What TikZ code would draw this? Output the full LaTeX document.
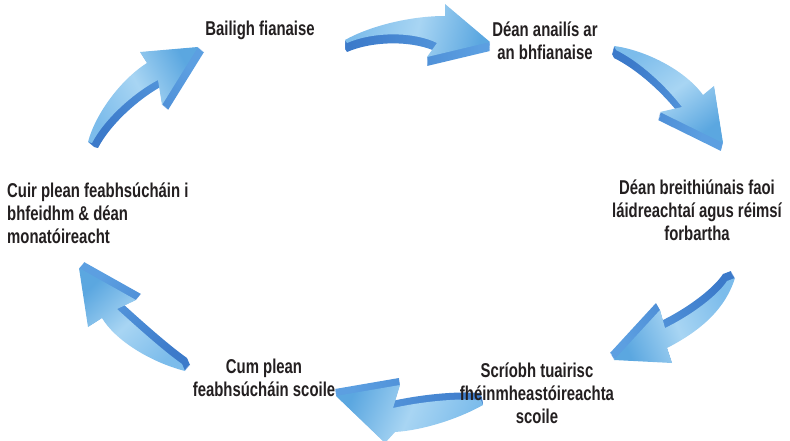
\documentclass[tikz,border=0pt]{standalone}
\usepackage{fontspec}
\setmainfont{Liberation Sans}[FakeStretch=0.745]
\definecolor{headc}{HTML}{5BA7E0}
\definecolor{midc}{HTML}{A8D5F3}
\definecolor{tailc}{HTML}{7CBCEB}
\definecolor{sidehead}{HTML}{5C9FE1}
\definecolor{sidetail}{HTML}{3C7ACA}
\definecolor{txt}{HTML}{231F20}
\tikzset{
  lab/.style={font=\bfseries\fontsize{20}{23}\selectfont, text=txt, align=center, inner sep=0pt},
}
% #1 path, #2/#3 extrusion shift, #4 shading angle
\newcommand\cyclearrow[4]{%
  \foreach \k in {10,...,1}{%
    \shade[top color=sidehead, bottom color=sidetail, shading angle=#4, shift={(#2*\k/10,#3*\k/10)}] #1;}
  \shade[top color=headc, bottom color=tailc, middle color=midc, shading angle=#4] #1;
}
\begin{document}
\begin{tikzpicture}[x=1pt,y=-1pt]
\useasboundingbox (0,0) rectangle (790,441);
% arrow 1 (top)
\cyclearrow{(345,40) .. controls (370,26) and (410,16) .. (445,16) -- (445,4) -- (490,42) -- (427,57) -- (437,43) .. controls (415,32) and (375,31) .. (347,43) -- cycle}{0}{9}{-104}
% arrow 2 (top right)
\cyclearrow{(614,46) .. controls (645,50) and (685,70) .. (703,95) -- (714,86) -- (723,143) -- (660,112) -- (682,107) .. controls (665,85) and (640,62) .. (616,50) -- cycle}{-2}{8}{-144}
% arrow 3 (bottom right)
\cyclearrow{(735,278) .. controls (728,300) and (712,325) .. (667,348) -- (672,363) -- (614,360) -- (660,310) -- (665,328) .. controls (692,315) and (718,295) .. (727,281) -- cycle}{-4}{-7}{113}
% arrow 4 (bottom)
\cyclearrow{(483,405) .. controls (460,418) and (425,430) .. (395,432) -- (385,443) -- (336,396) -- (400,385) -- (393,408) .. controls (420,402) and (455,398) .. (481,400) -- cycle}{-1}{-7}{67}
% arrow 5 (bottom left)
\cyclearrow{(185,371) .. controls (150,362) and (115,340) .. (102,318) -- (88,327) -- (79,268) -- (136,300) -- (117,309) .. controls (140,330) and (165,352) .. (182,364) -- cycle}{5}{-6}{43}
% arrow 6 (top left)
\cyclearrow{(88,142) .. controls (95,115) and (120,80) .. (147,63) -- (140,52) -- (198,47) -- (162,105) -- (158,80) .. controls (135,92) and (105,118) .. (92,143) -- cycle}{6}{5}{-62}
% labels
\node[lab] (n1) at (260,30) {Bailigh fianaise};
\node[lab] (n2) at (545,41) {Déan anailís ar\\an bhfianaise};
\node[lab] (n3) at (697,210) {Déan breithiúnais faoi\\láidreachtaí agus réimsí\\forbartha};
\node[lab] (n4) at (537,393) {Scríobh tuairisc\\fhéinmheastóireachta\\scoile};
\node[lab] (n5) at (264,378) {Cum plean\\feabhsúcháin scoile};
\node[lab, align=left, anchor=west] (n6) at (7,213) {Cuir plean feabhsúcháin i\\bhfeidhm \& déan\\monatóireacht};
\end{tikzpicture}
\end{document}
